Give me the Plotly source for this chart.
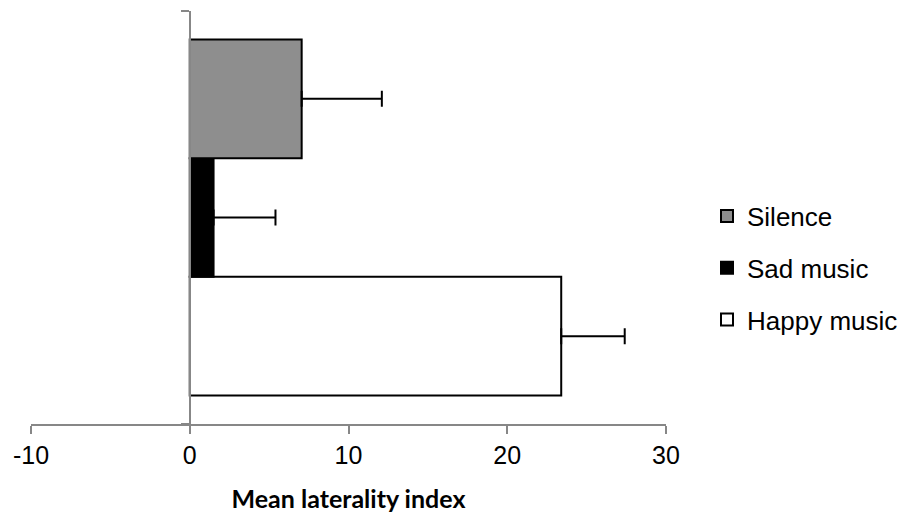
import plotly.graph_objects as go

# Data (drawn bottom-to-top: Happy, Sad, Silence)
series = ["Happy music", "Sad music", "Silence"]
means = [23.4, 1.5, 7.05]
errors = [4.0, 3.9, 5.05]
fills = ["#ffffff", "#000000", "#8e8e8e"]
legend_ranks = [3, 2, 1]
category = [""]
x_ticks = [-10, 0, 10, 20, 30]

AXIS_GRAY = "#878787"
TXT_FONT = "Liberation Sans, Arial, sans-serif"

fig = go.Figure()
for name, m, e, c, r in zip(series, means, errors, fills, legend_ranks):
    fig.add_trace(go.Bar(
        y=category, x=[m], name=name, orientation="h",
        legendgroup=name, legendrank=r,
        marker=dict(color=c, line=dict(color="#000000", width=2)),
        error_x=dict(type="data", symmetric=False, array=[e], arrayminus=[0],
                     color="#000000", thickness=2, width=8),
    ))

fig.update_layout(
    width=904, height=515,
    margin=dict(l=31, r=238, t=11, b=91, autoexpand=False),
    paper_bgcolor="white", plot_bgcolor="white",
    barmode="group", bargap=0.138, bargroupgap=0,
    showlegend=True,
    legend=dict(
        xref="container", yref="container",
        x=707 / 904, y=1 - 268 / 515, xanchor="left", yanchor="middle",
        traceorder="grouped", tracegroupgap=15,
        font=dict(family=TXT_FONT, size=26, color="#000000"),
        bgcolor="rgba(0,0,0,0)", borderwidth=0, itemwidth=30,
    ),
    xaxis=dict(
        range=[-10, 30], tickvals=x_ticks, ticktext=[str(v) for v in x_ticks],
        showgrid=False, zeroline=False, automargin=False,
        showline=True, linecolor=AXIS_GRAY, linewidth=2,
        ticks="outside", ticklen=8, tickwidth=2, tickcolor=AXIS_GRAY,
        tickfont=dict(family=TXT_FONT, size=25, color="#000000"),
        title=dict(text="Mean laterality index",
                   font=dict(family="Lato, Open Sans, sans-serif", size=25,
                             color="#000000", weight="bold"),
                   standoff=22),
        domain=[0, 1],
    ),
    yaxis=dict(
        type="category", range=[-0.5, 0.5],
        anchor="free", position=0.25, automargin=False,
        showgrid=False, zeroline=False,
        showline=True, linecolor=AXIS_GRAY, linewidth=2,
        ticks="outside", ticklen=8, tickwidth=2, tickcolor=AXIS_GRAY,
        tickson="boundaries", showticklabels=False,
    ),
)

fig.write_html("out.html")
